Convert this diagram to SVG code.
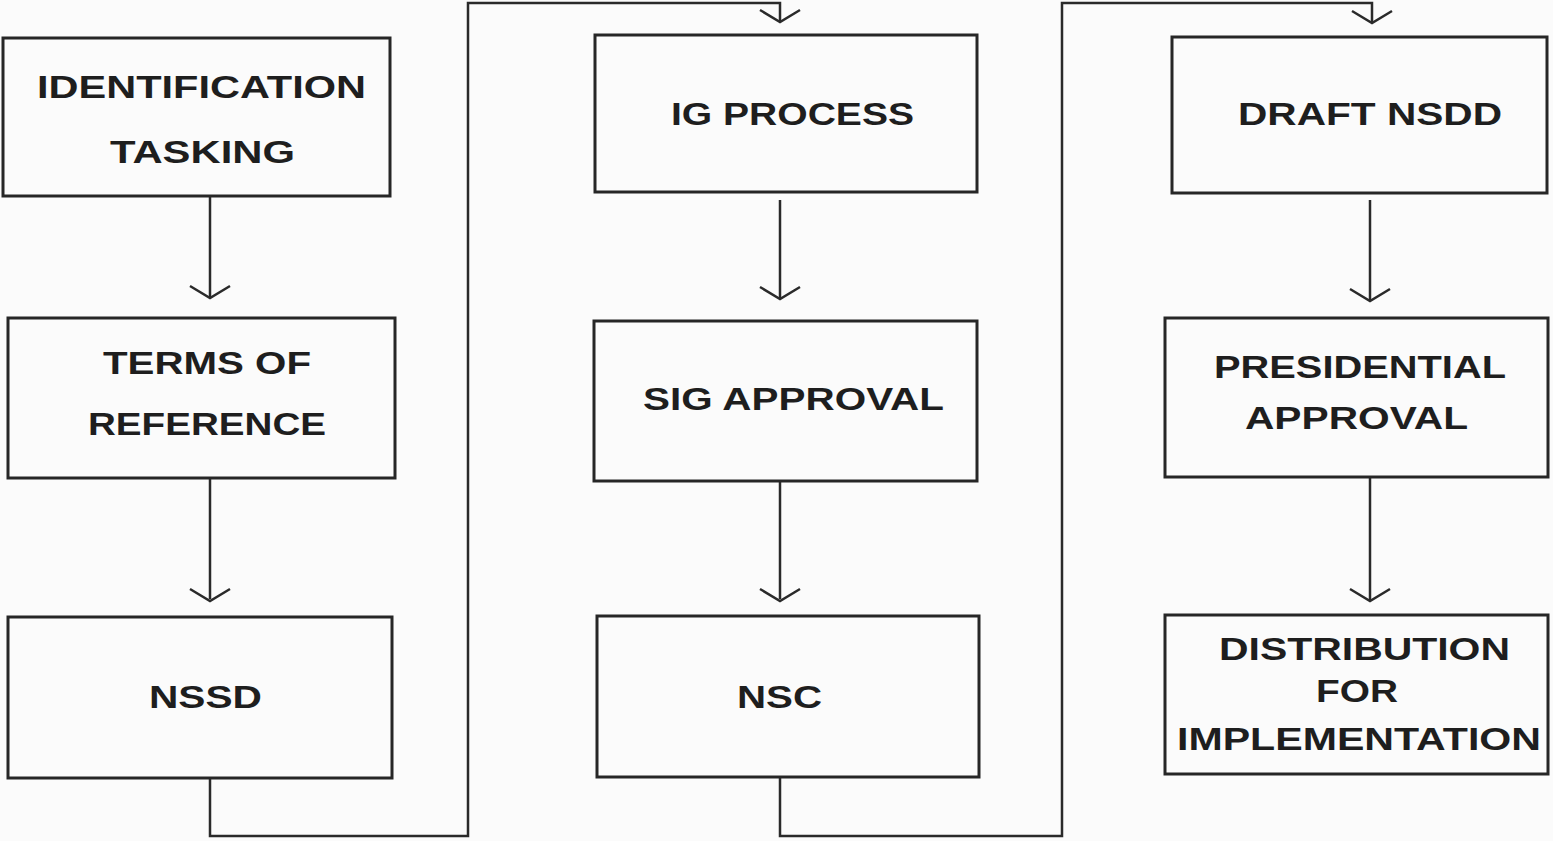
<svg xmlns="http://www.w3.org/2000/svg" width="1553" height="841" viewBox="0 0 1553 841">
<style>
.box{fill:none;stroke:#262626;stroke-width:3}
.c{fill:none;stroke:#2a2a2a;stroke-width:2.5}
text{font-family:"Liberation Sans",Arial,sans-serif;font-weight:bold;font-size:31px;fill:#1e1e1e;text-anchor:start}
</style>
<defs>
<marker id="v" markerWidth="24" markerHeight="14" refX="12" refY="12" orient="auto-start-reverse" markerUnits="userSpaceOnUse" viewBox="0 0 24 14">
<path d="M1,1 L12,12 L23,1" transform="rotate(0)" fill="none" stroke="#2a2a2a" stroke-width="2.5"/>
</marker>
</defs>
<rect width="1553" height="841" fill="#fbfbfb"/>
<g id="connectors">
<path class="c" d="M210,196 V297"/>
<path class="c" d="M210,478 V599"/>
<path class="c" d="M210,778 V836 H468 V3 H780 V21"/>
<path class="c" d="M780,200 V298"/>
<path class="c" d="M780,481 V599"/>
<path class="c" d="M780,777 V836 H1062 V3 H1372 V22"/>
<path class="c" d="M1370,200 V300"/>
<path class="c" d="M1370,478 V600"/>
<g fill="none" stroke="#2a2a2a" stroke-width="2.5">
<path d="M190,286 L210,298 L230,286"/>
<path d="M190,589 L210,601 L230,589"/>
<path d="M760,10 L780,22 L800,10"/>
<path d="M760,287 L780,299 L800,287"/>
<path d="M760,589 L780,601 L800,589"/>
<path d="M1352,11 L1372,23 L1392,11"/>
<path d="M1350,289 L1370,301 L1390,289"/>
<path d="M1350,589 L1370,601 L1390,589"/>
</g>
</g>
<g id="n1"><rect class="box" x="3" y="38" width="387" height="158"/>
<text x="37" y="98" textLength="329" lengthAdjust="spacingAndGlyphs">IDENTIFICATION</text>
<text x="110" y="163" textLength="185" lengthAdjust="spacingAndGlyphs">TASKING</text></g>
<g id="n2"><rect class="box" x="8" y="318" width="387" height="160"/>
<text x="103" y="374" textLength="208" lengthAdjust="spacingAndGlyphs">TERMS OF</text>
<text x="88" y="435" textLength="238" lengthAdjust="spacingAndGlyphs">REFERENCE</text></g>
<g id="n3"><rect class="box" x="8" y="617" width="384" height="161"/>
<text x="149" y="708" textLength="113" lengthAdjust="spacingAndGlyphs">NSSD</text></g>
<g id="n4"><rect class="box" x="595" y="35" width="382" height="157"/>
<text x="671" y="125" textLength="243" lengthAdjust="spacingAndGlyphs">IG PROCESS</text></g>
<g id="n5"><rect class="box" x="594" y="321" width="383" height="160"/>
<text x="643" y="410" textLength="301" lengthAdjust="spacingAndGlyphs">SIG APPROVAL</text></g>
<g id="n6"><rect class="box" x="597" y="616" width="382" height="161"/>
<text x="737" y="708" textLength="85" lengthAdjust="spacingAndGlyphs">NSC</text></g>
<g id="n7"><rect class="box" x="1172" y="37" width="375" height="156"/>
<text x="1238" y="125" textLength="264" lengthAdjust="spacingAndGlyphs">DRAFT NSDD</text></g>
<g id="n8"><rect class="box" x="1165" y="318" width="383" height="159"/>
<text x="1214" y="378" textLength="292" lengthAdjust="spacingAndGlyphs">PRESIDENTIAL</text>
<text x="1245" y="429" textLength="223" lengthAdjust="spacingAndGlyphs">APPROVAL</text></g>
<g id="n9"><rect class="box" x="1165" y="615" width="383" height="159"/>
<text x="1219" y="660" textLength="291" lengthAdjust="spacingAndGlyphs">DISTRIBUTION</text>
<text x="1316" y="702" textLength="82" lengthAdjust="spacingAndGlyphs">FOR</text>
<text x="1177" y="750" textLength="364" lengthAdjust="spacingAndGlyphs">IMPLEMENTATION</text></g>
</svg>
